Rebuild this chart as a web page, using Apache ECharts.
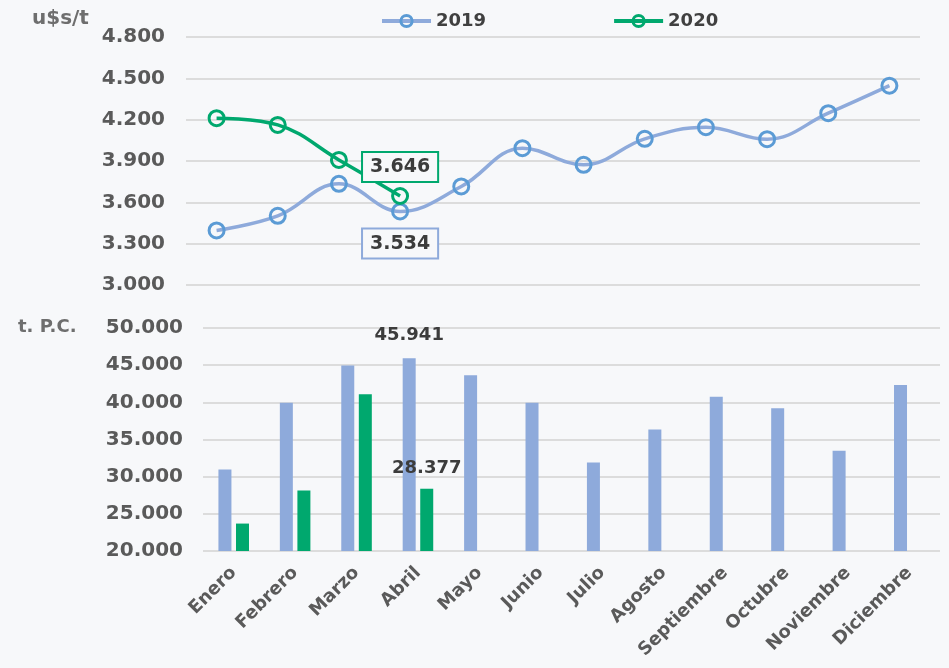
<!DOCTYPE html>
<html>
<head>
<meta charset="utf-8">
<script src="https://cdn.jsdelivr.net/npm/echarts@6/dist/echarts.min.js"></script>
<style>
html,body{margin:0;padding:0;background:#f7f8fa;}
#chart{width:949px;height:668px;}
</style>
</head>
<body>
<div id="chart"></div>
<script>
const categories = ['Enero','Febrero','Marzo','Abril','Mayo','Junio','Julio','Agosto','Septiembre','Octubre','Noviembre','Diciembre'];
const seriesNames = ['2019','2020'];
const price2019 = [3396, 3502, 3734, 3534, 3715, 3993, 3872, 4061, 4145, 4058, 4247, 4447];
const price2020 = [4211, 4162, 3908, 3646];
const volume2019 = [30970, 39950, 44950, 45941, 43640, 39950, 31900, 36360, 40750, 39190, 33480, 42330];
const volume2020 = [23690, 28140, 41080, 28377];
const priceAxis = { min: 3000, max: 4800, interval: 300, unit: 'u$s/t' };
const volumeAxis = { min: 20000, max: 50000, interval: 5000, unit: 't. P.C.' };
const labelledIndex = 3; // Abril

const FONT = 'DejaVu Sans';
const BLUE_LINE = '#8eaadb';
const BLUE_MARK = '#5b9bd5';
const GREEN = '#00a86e';
const GRID_COLOR = '#dcdcdc';
const AXIS_TEXT = '#5a5a5a';
const LABEL_TEXT = '#3c3c3c';

function fmt(v) {
  return String(Math.round(v)).replace(/\B(?=(\d{3})+(?!\d))/g, '.');
}

function withLabel(arr, labelCfg) {
  return arr.map((v, i) => i === labelledIndex ? { value: v, label: Object.assign({ show: true }, labelCfg) } : v);
}

const lineLabelBase = {
  formatter: p => fmt(p.value),
  fontFamily: FONT, fontWeight: 'bold', fontSize: 19, color: LABEL_TEXT,
  backgroundColor: '#f7f8fa', borderWidth: 2, padding: [5, 7, 4, 7]
};
const barLabelBase = {
  position: 'top',
  formatter: p => fmt(p.value),
  fontFamily: FONT, fontWeight: 'bold', fontSize: 18, color: LABEL_TEXT
};

const chart = echarts.init(document.getElementById('chart'));
chart.setOption({
  backgroundColor: '#f7f8fa',
  animation: false,
  textStyle: { fontFamily: FONT },
  legend: {
    data: seriesNames,
    left: 375, top: 7,
    itemWidth: 49, itemHeight: 14, itemGap: 126,
    lineStyle: { width: 4 },
    itemStyle: { borderWidth: 3 },
    textStyle: { fontFamily: FONT, fontWeight: 'bold', fontSize: 18, color: '#404040' }
  },
  graphic: [
    { type: 'text', left: 32, top: 9, style: { text: priceAxis.unit, font: 'bold 20px "DejaVu Sans"', fill: '#6e6e6e' } },
    { type: 'text', left: 18, top: 318, style: { text: volumeAxis.unit, font: 'bold 18px "DejaVu Sans"', fill: '#6e6e6e' } }
  ],
  grid: [
    { left: 186, right: 29, top: 37, height: 248 },
    { left: 203, right: 9, top: 328, height: 223 }
  ],
  xAxis: [
    { type: 'category', gridIndex: 0, data: categories, boundaryGap: true,
      axisLine: { show: false }, axisTick: { show: false }, axisLabel: { show: false } },
    { type: 'category', gridIndex: 1, data: categories, boundaryGap: true,
      axisLine: { show: false }, axisTick: { show: false },
      axisLabel: { interval: 0, rotate: 45, margin: 19, fontFamily: FONT, fontWeight: 'bold', fontSize: 18, color: AXIS_TEXT } }
  ],
  yAxis: [
    { type: 'value', gridIndex: 0, min: priceAxis.min, max: priceAxis.max, interval: priceAxis.interval,
      axisLine: { show: false }, axisTick: { show: false },
      splitLine: { lineStyle: { color: GRID_COLOR, width: 2 } },
      axisLabel: { margin: 21, formatter: fmt, fontFamily: FONT, fontWeight: 'bold', fontSize: 20, color: AXIS_TEXT } },
    { type: 'value', gridIndex: 1, min: volumeAxis.min, max: volumeAxis.max, interval: volumeAxis.interval,
      axisLine: { show: false }, axisTick: { show: false },
      splitLine: { lineStyle: { color: GRID_COLOR, width: 2 } },
      axisLabel: { margin: 20, formatter: fmt, fontFamily: FONT, fontWeight: 'bold', fontSize: 20, color: AXIS_TEXT } }
  ],
  series: [
    { name: seriesNames[0], type: 'line', xAxisIndex: 0, yAxisIndex: 0, smooth: 0.4,
      symbol: 'circle', symbolSize: 15,
      itemStyle: { color: 'rgba(0,0,0,0)', borderColor: BLUE_MARK, borderWidth: 3 },
      lineStyle: { color: BLUE_LINE, width: 3.5 },
      data: withLabel(price2019, Object.assign({}, lineLabelBase, { position: 'bottom', distance: 9, borderColor: BLUE_LINE })) ,
      z: 3 },
    { name: seriesNames[1], type: 'line', xAxisIndex: 0, yAxisIndex: 0, smooth: 0.4,
      symbol: 'circle', symbolSize: 15,
      itemStyle: { color: 'rgba(0,0,0,0)', borderColor: GREEN, borderWidth: 3 },
      lineStyle: { color: GREEN, width: 3.5 },
      data: withLabel(price2020, Object.assign({}, lineLabelBase, { position: 'top', distance: 6, borderColor: GREEN })),
      z: 4 },
    { name: seriesNames[0], type: 'bar', xAxisIndex: 1, yAxisIndex: 1, barWidth: 13, barGap: '35%',
      itemStyle: { color: BLUE_LINE },
      data: withLabel(volume2019, Object.assign({}, barLabelBase, { distance: 14 })) },
    { name: seriesNames[1], type: 'bar', xAxisIndex: 1, yAxisIndex: 1, barWidth: 13, barGap: '35%',
      itemStyle: { color: GREEN },
      data: withLabel(volume2020, Object.assign({}, barLabelBase, { distance: 11 })) }
  ]
});
</script>
</body>
</html>
